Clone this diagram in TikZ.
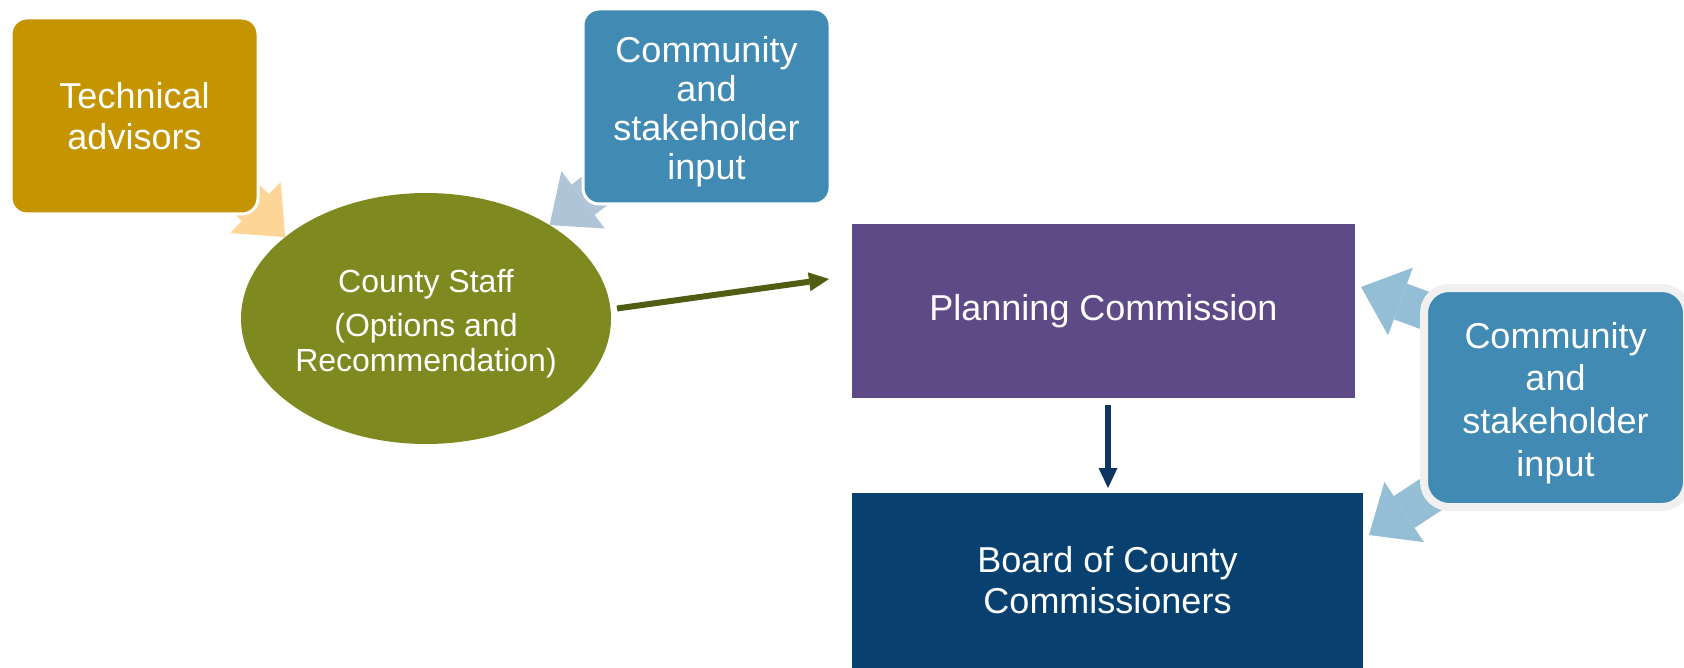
\documentclass[tikz,border=0pt]{standalone}
\usepackage{fontspec}
\setmainfont{Liberation Sans}
\usetikzlibrary{shapes.geometric,arrows.meta,backgrounds}
\definecolor{goldbox}{HTML}{C49500}
\definecolor{inputblue}{HTML}{418AB3}
\definecolor{staffgreen}{HTML}{7E8A1F}
\definecolor{pcpurple}{HTML}{5E4A87}
\definecolor{bocnavy}{HTML}{08416F}
\definecolor{arrowgreen}{HTML}{4F5E12}
\definecolor{arrownavy}{HTML}{0D3561}
\definecolor{peach}{HTML}{FDD597}
\definecolor{greyblue}{HTML}{B0C4D8}
\definecolor{paleblue}{HTML}{94BDD6}
\definecolor{rimgrey}{HTML}{F0F0F0}
\tikzset{every node/.style={text=white,align=center,inner sep=0pt,outer sep=0pt,
           font=\fontsize{18}{20.5}\selectfont},
         card/.style={fill=#1,draw=white,line width=1.5pt,rounded corners=8pt},
         slab/.style={fill=#1},
         fat/.style={draw=#1,line width=19pt,
           -{Triangle[width=36pt,length=21pt,line width=0pt]}},
         thin arrow/.style={draw=#1,line width=3pt,
           -{Triangle[width=9.5pt,length=10pt,line width=0pt]}}}

\begin{document}
\begin{tikzpicture}[x=0.5pt,y=-0.5pt]
  \useasboundingbox (0,0) rectangle (1684,668);
  \node[card=goldbox,minimum width=123.5pt,minimum height=98pt] (tech) at (134.5,116)
    {Technical\\advisors};
  \node[card=inputblue,minimum width=123.5pt,minimum height=97.5pt,
        font=\fontsize{18}{19.5}\selectfont] (input) at (706.5,106.5)
    {\rule{0pt}{18.5pt}Community\\and\\stakeholder\\input};
  \node[ellipse,fill=staffgreen,minimum width=185pt,minimum height=125.5pt,
        font=\fontsize{16}{17.5}\selectfont] (staff) at (426,318.5)
    {\rule{0pt}{17.1pt}County Staff\\[4.5pt](Options and\\Recommendation)};
  \node[slab=pcpurple,minimum width=251.5pt,minimum height=87pt] (pc) at (1103.5,311)
    {Planning Commission};
  \node[slab=bocnavy,minimum width=255.5pt,minimum height=87.5pt] (boc) at (1107.5,580.5)
    {Board of County\\Commissioners};
  \node[fill=inputblue,draw=rimgrey,line width=4pt,rounded corners=12.5pt,
        minimum width=131.5pt,minimum height=109.5pt,
        font=\fontsize{18}{21.3}\selectfont] (input2) at (1555.5,397.5)
    {\rule{0pt}{18.5pt}Community\\and\\stakeholder\\input};
  % block arrows sit behind the boxes
  \begin{pgfonlayer}{background}
    \draw[fat=peach] ([xshift=27pt,yshift=-12.5pt]tech.center) -- (staff.150);
    \draw[fat=greyblue] (input.center) -- (staff);
    \draw[fat=paleblue] ([xshift=8pt,yshift=-14pt]input2.north west)
      -- ([xshift=3pt,yshift=12pt]pc.east);
    \draw[fat=paleblue] ([xshift=13pt,yshift=12.5pt]input2.south west)
      -- ([xshift=3pt,yshift=22.75pt]boc.east);
  \end{pgfonlayer}
  \draw[thin arrow=arrowgreen] ([xshift=3pt,yshift=5pt]staff.east)
    -- ([xshift=-11.5pt,yshift=16pt]pc.west);
  \draw[thin arrow=arrownavy,line width=2.8pt] ([xshift=2.25pt,yshift=-3.5pt]pc.south)
    -- ([xshift=0.25pt,yshift=2.5pt]boc.north);
\end{tikzpicture}
\end{document}
